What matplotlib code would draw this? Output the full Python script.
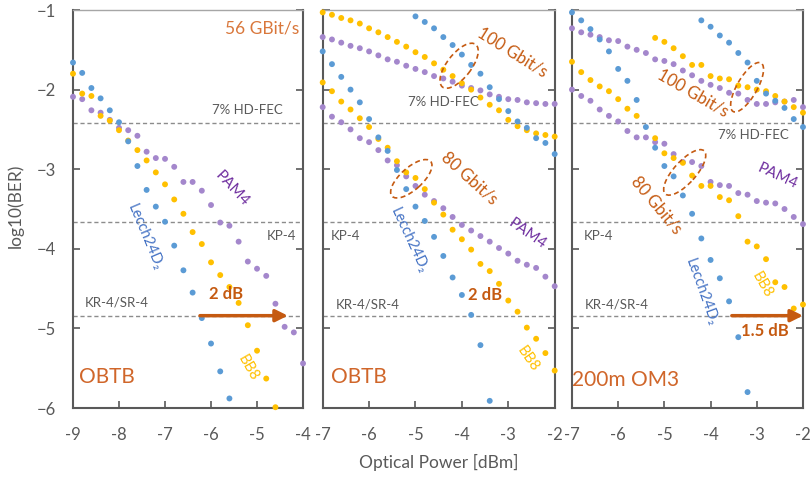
import matplotlib
matplotlib.use("Agg")
import matplotlib.pyplot as plt
from matplotlib.patches import Ellipse
from matplotlib import transforms

plt.rcParams['font.family'] = ['Lato', 'DejaVu Sans']

BLUE = "#5B9BD5"
YELLOW = "#FFC000"
PURPLE = "#A487CC"
ORANGE = "#C55A11"
GRAY = "#595959"

# FEC thresholds, log10(BER)
hd_fec = -2.42
kp4 = -3.66
kr4 = -4.84

# ---- panel 1: 56 GBit/s OBTB
p1_blue_x = [-9.0, -8.8, -8.6, -8.4, -8.2, -8.0, -7.8, -7.6, -7.4, -7.2, -7.0, -6.8, -6.6, -6.4, -6.2, -6.0, -5.8, -5.6]
p1_blue_y = [-1.66, -1.79, -1.98, -2.11, -2.26, -2.41, -2.65, -2.96, -3.26, -3.47, -3.66, -3.96, -4.27, -4.55, -4.87, -5.19, -5.54, -5.88]
p1_yel_x = [-9.0, -8.8, -8.6, -8.4, -8.2, -8.0, -7.8, -7.6, -7.4, -7.2, -7.0, -6.8, -6.6, -6.4, -6.2, -6.0, -5.8, -5.6, -5.4, -5.2, -5.0, -4.8, -4.6]
p1_yel_y = [-1.80, -2.05, -2.08, -2.33, -2.39, -2.51, -2.64, -2.76, -2.89, -3.04, -3.19, -3.38, -3.56, -3.79, -3.94, -4.17, -4.33, -4.48, -4.68, -4.96, -5.28, -5.63, -5.99]
p1_pur_x = [-9.0, -8.8, -8.6, -8.4, -8.2, -8.0, -7.8, -7.6, -7.4, -7.2, -7.0, -6.8, -6.6, -6.4, -6.2, -6.0, -5.8, -5.6, -5.4, -5.2, -5.0, -4.8, -4.6, -4.4, -4.2, -4.0]
p1_pur_y = [-2.09, -2.12, -2.26, -2.29, -2.38, -2.48, -2.51, -2.58, -2.78, -2.86, -2.87, -2.97, -3.16, -3.16, -3.27, -3.45, -3.67, -3.71, -3.91, -4.16, -4.25, -4.34, -4.69, -4.98, -5.05, -5.44]

# ---- panel 2: 80 / 100 Gbit/s OBTB
full_x = [-7.0, -6.8, -6.6, -6.4, -6.2, -6.0, -5.8, -5.6, -5.4, -5.2, -5.0, -4.8, -4.6, -4.4, -4.2, -4.0, -3.8, -3.6, -3.4, -3.2, -3.0, -2.8, -2.6, -2.4, -2.2, -2.0]
p2_blue80_x = [-7.0, -6.8, -6.6, -6.4, -6.2, -6.0, -5.8, -5.6, -5.4, -5.2, -5.0, -4.8, -4.6, -4.4, -4.2, -4.0, -3.8, -3.6, -3.4]
p2_blue80_y = [-1.52, -1.68, -1.84, -2.00, -2.16, -2.37, -2.60, -2.77, -3.01, -3.25, -3.47, -3.65, -3.85, -4.09, -4.36, -4.58, -4.83, -5.21, -5.91]
p2_blue100_x = [-5.0, -4.8, -4.6, -4.4, -4.2, -4.0, -3.8, -3.6, -3.4, -3.2, -3.0, -2.8, -2.6, -2.4, -2.2, -2.0]
p2_blue100_y = [-1.08, -1.15, -1.23, -1.34, -1.44, -1.56, -1.69, -1.80, -1.97, -2.12, -2.27, -2.40, -2.48, -2.61, -2.67, -2.81]
p2_yel100_y = [-1.03, -1.06, -1.10, -1.13, -1.17, -1.23, -1.28, -1.34, -1.40, -1.46, -1.53, -1.59, -1.67, -1.75, -1.83, -1.92, -2.00, -2.10, -2.19, -2.26, -2.38, -2.46, -2.51, -2.55, -2.57, -2.59]
p2_yel80_y = [-1.91, -2.02, -2.15, -2.25, -2.36, -2.47, -2.62, -2.73, -2.90, -3.04, -3.11, -3.25, -3.42, -3.57, -3.76, -3.88, -4.01, -4.19, -4.28, -4.44, -4.65, -4.79, -4.99, -5.13, -5.31, -5.53]
p2_pur100_y = [-1.34, -1.37, -1.41, -1.45, -1.48, -1.52, -1.57, -1.62, -1.65, -1.70, -1.74, -1.78, -1.83, -1.86, -1.90, -1.95, -1.98, -2.01, -2.06, -2.09, -2.12, -2.13, -2.16, -2.17, -2.18, -2.18]
p2_pur80_y = [-2.22, -2.34, -2.41, -2.50, -2.61, -2.66, -2.76, -2.89, -2.95, -3.09, -3.21, -3.32, -3.40, -3.49, -3.60, -3.70, -3.77, -3.84, -3.91, -3.99, -4.06, -4.15, -4.20, -4.24, -4.35, -4.47]

# ---- panel 3: 80 / 100 Gbit/s over 200m OM3
p3_blue80_x = [-7.0, -6.8, -6.6, -6.4, -6.2, -6.0, -5.8, -5.6, -5.4, -5.2, -5.0, -4.8, -4.6, -4.4, -4.2, -4.0, -3.8, -3.6, -3.4, -3.2]
p3_blue80_y = [-1.03, -1.13, -1.24, -1.37, -1.52, -1.74, -1.89, -2.13, -2.47, -2.73, -2.96, -3.09, -3.33, -3.56, -3.87, -4.14, -4.37, -4.66, -5.11, -5.80]
p3_blue100_x = [-4.2, -4.0, -3.8, -3.6, -3.4, -3.2, -3.0, -2.8, -2.6, -2.4, -2.2, -2.0]
p3_blue100_y = [-1.13, -1.21, -1.32, -1.41, -1.54, -1.66, -1.89, -2.05, -2.14, -2.23, -2.37, -2.47]
p3_yel80_x = [-7.0, -6.8, -6.6, -6.4, -6.2, -6.0, -5.8, -5.6, -5.2, -5.0, -4.8, -4.6, -4.4, -4.2, -4.0, -3.8, -3.6, -3.4, -3.2, -3.0, -2.8, -2.6, -2.4, -2.2, -2.0]
p3_yel80_y = [-1.65, -1.78, -1.88, -1.96, -2.02, -2.12, -2.24, -2.33, -2.61, -2.80, -2.86, -2.92, -3.08, -3.21, -3.21, -3.35, -3.39, -3.59, -3.91, -3.97, -4.13, -4.42, -4.48, -4.75, -4.70]
p3_yel100_x = [-5.2, -5.0, -4.8, -4.6, -4.4, -4.2, -4.0, -3.8, -3.6, -3.4, -3.2, -3.0, -2.8, -2.6, -2.4, -2.2, -2.0]
p3_yel100_y = [-1.35, -1.40, -1.48, -1.58, -1.69, -1.69, -1.83, -1.86, -1.87, -1.95, -1.97, -2.00, -2.02, -2.08, -2.15, -2.22, -2.29]
p3_pur80_y = [-2.00, -2.08, -2.14, -2.25, -2.33, -2.40, -2.52, -2.60, -2.60, -2.66, -2.68, -2.81, -2.91, -2.91, -2.96, -3.16, -3.20, -3.21, -3.30, -3.32, -3.40, -3.42, -3.43, -3.50, -3.60, -3.69]
p3_pur100_y = [-1.23, -1.28, -1.31, -1.34, -1.38, -1.39, -1.46, -1.50, -1.54, -1.62, -1.64, -1.68, -1.76, -1.82, -1.89, -1.94, -1.98, -2.04, -2.05, -2.13, -2.18, -2.18, -2.16, -2.15, -2.13, -2.22]

fig = plt.figure(figsize=(8.12, 4.79), dpi=100)
ax1 = fig.add_axes([0.0899, 0.1482, 0.2833, 0.8309])
ax2 = fig.add_axes([0.3974, 0.1482, 0.2857, 0.8309])
ax3 = fig.add_axes([0.7044, 0.1482, 0.2845, 0.8309])


def dots(ax, x, y, color):
    ax.scatter(x, y, s=18, color=color, edgecolors='none', zorder=3, clip_on=False)


def style(ax, xmin, show_y):
    ax.set_xlim(xmin, xmin + 5)
    ax.set_ylim(-6, -1)
    ax.set_xticks(range(xmin, xmin + 6))
    ax.set_xticklabels([str(v) for v in range(xmin, xmin + 6)])
    ax.set_yticks(range(-6, 0))
    ax.tick_params(axis='both', direction='in', length=5, width=1.2, color=GRAY,
                   labelcolor=GRAY, labelsize=12, left=True, right=True)
    ax.tick_params(axis='x', pad=14)
    ax.tick_params(axis='y', pad=12)
    if not show_y:
        ax.set_yticklabels([])
    for sp in ax.spines.values():
        sp.set_color(GRAY)
        sp.set_linewidth(1.5)
    ax.spines['top'].set_color('#A6A6A6')
    ax.spines['top'].set_linewidth(1.0)
    for lvl in (hd_fec, kp4, kr4):
        ax.axhline(lvl, color='#8C8C8C', lw=1.0, ls=(0, (3, 2)), zorder=1)


def ring(ax, xc, yc, w, h, ang):
    tr = fig.dpi_scale_trans + transforms.ScaledTranslation(xc, yc, ax.transData)
    ax.add_patch(Ellipse((0, 0), w, h, angle=ang, transform=tr, fill=False,
                         ec=ORANGE, lw=1.2, ls=(0, (3, 2)), zorder=4))


def arrow(ax, x0, x1, y):
    ax.annotate('', xy=(x1, y), xytext=(x0, y),
                arrowprops=dict(arrowstyle='-|>', color=ORANGE, lw=2.5, mutation_scale=18,
                                shrinkA=0, shrinkB=0), zorder=5)


def note(ax, x, y, s, color=GRAY, size=9.5, rot=0, weight='normal'):
    ax.text(x, y, s, color=color, fontsize=size, rotation=rot, ha='center', va='center',
            fontweight=weight, rotation_mode='anchor')


# panel 1
style(ax1, -9, True)
dots(ax1, p1_pur_x, p1_pur_y, PURPLE)
dots(ax1, p1_yel_x, p1_yel_y, YELLOW)
dots(ax1, p1_blue_x, p1_blue_y, BLUE)
note(ax1, -4.90, -1.23, '56 GBit/s', color='#D9773B', size=12.5)
note(ax1, -5.22, -2.25, '7% HD-FEC')
note(ax1, -4.46, -3.84, 'KP-4')
note(ax1, -8.05, -4.68, 'KR-4/SR-4')
note(ax1, -5.54, -3.24, 'PAM4', color='#7030A0', size=11, rot=-47)
note(ax1, -7.43, -3.85, 'Lecch24D₂', color='#4472C4', size=10.5, rot=-67)
note(ax1, -5.19, -5.50, 'BB8', color=YELLOW, size=10.5, rot=-60)
note(ax1, -5.68, -4.57, '2 dB', color=ORANGE, size=12, weight='bold')
note(ax1, -8.27, -5.61, 'OBTB', color='#D0662A', size=15)
arrow(ax1, -6.24, -4.33, kr4)

# panel 2
style(ax2, -7, False)
dots(ax2, full_x, p2_pur100_y, PURPLE)
dots(ax2, full_x, p2_pur80_y, PURPLE)
dots(ax2, full_x, p2_yel100_y, YELLOW)
dots(ax2, full_x, p2_yel80_y, YELLOW)
dots(ax2, p2_blue80_x, p2_blue80_y, BLUE)
dots(ax2, p2_blue100_x, p2_blue100_y, BLUE)
note(ax2, -2.92, -1.53, '100 Gbit/s', color=ORANGE, size=12, rot=-32)
note(ax2, -3.83, -3.11, '80 Gbit/s', color=ORANGE, size=12, rot=-42)
note(ax2, -4.40, -2.15, '7% HD-FEC')
note(ax2, -6.50, -3.84, 'KP-4')
note(ax2, -6.02, -4.70, 'KR-4/SR-4')
note(ax2, -5.14, -3.89, 'Lecch24D₂', color='#4472C4', size=10.5, rot=-65)
note(ax2, -2.58, -3.81, 'PAM4', color='#7030A0', size=11, rot=-35)
note(ax2, -2.57, -5.38, 'BB8', color=YELLOW, size=10.5, rot=-55)
note(ax2, -3.49, -4.58, '2 dB', color=ORANGE, size=12, weight='bold')
note(ax2, -6.23, -5.61, 'OBTB', color='#D0662A', size=15)
ring(ax2, -4.06, -1.70, 0.54, 0.24, 52)
ring(ax2, -5.09, -3.12, 0.52, 0.22, 42)
arrow(ax2, -3.87, -1.98, kr4)

# panel 3
style(ax3, -7, False)
dots(ax3, full_x, p3_pur100_y, PURPLE)
dots(ax3, full_x, p3_pur80_y, PURPLE)
dots(ax3, p3_yel100_x, p3_yel100_y, YELLOW)
dots(ax3, p3_yel80_x, p3_yel80_y, YELLOW)
dots(ax3, p3_blue80_x, p3_blue80_y, BLUE)
dots(ax3, p3_blue100_x, p3_blue100_y, BLUE)
note(ax3, -4.38, -2.04, '100 Gbit/s', color=ORANGE, size=12, rot=-30)
note(ax3, -5.16, -3.45, '80 Gbit/s', color=ORANGE, size=12, rot=-50)
note(ax3, -3.07, -2.57, '7% HD-FEC')
note(ax3, -6.43, -3.84, 'KP-4')
note(ax3, -6.03, -4.70, 'KR-4/SR-4')
note(ax3, -2.54, -3.09, 'PAM4', color='#7030A0', size=11, rot=-25)
note(ax3, -4.21, -4.54, 'Lecch24D₂', color='#4472C4', size=10.5, rot=-70)
note(ax3, -2.89, -4.45, 'BB8', color=YELLOW, size=10.5, rot=-60)
note(ax3, -2.82, -5.03, '1.5 dB', color=ORANGE, size=12, weight='bold')
note(ax3, -5.85, -5.65, '200m OM3', color='#D0662A', size=15)
ring(ax3, -3.21, -1.97, 0.56, 0.20, 60)
ring(ax3, -4.56, -3.04, 0.58, 0.22, 48)
arrow(ax3, -3.54, -2.0, kr4)

fig.text(0.019, 0.57, 'log10(BER)', rotation=90, ha='center', va='center', fontsize=12.5, color=GRAY)
fig.text(0.54, 0.035, 'Optical Power [dBm]', ha='center', va='center', fontsize=12.5, color=GRAY)

fig.savefig('out.png', dpi=100)
